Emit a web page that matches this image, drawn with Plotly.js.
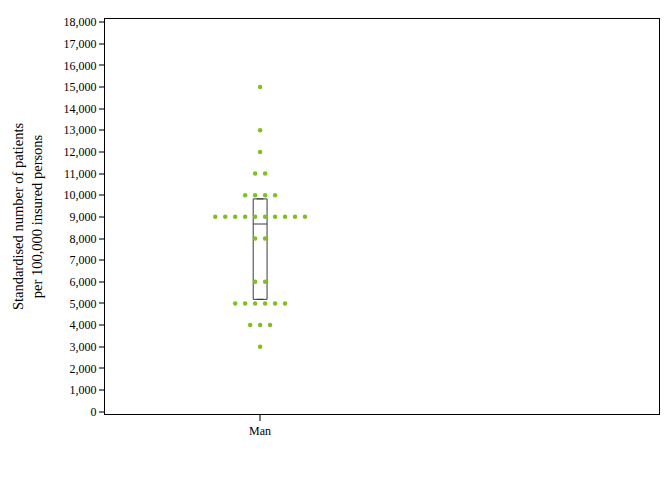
<!DOCTYPE html>
<html>
<head>
<meta charset="utf-8">
<script src="https://cdn.plot.ly/plotly-3.0.1.min.js"></script>
<style>html,body{margin:0;padding:0;background:#fff;}#chart{width:672px;height:480px;}</style>
</head>
<body>
<div id="chart"></div>
<script>
// Data
const categories = ['Man'];
// binned dot values (standardised patients per 100,000) and how many dots at each
const dotLevels = [15000, 13000, 12000, 11000, 10000, 9000, 8000, 6000, 5000, 4000, 3000];
const dotCounts = [1, 1, 1, 2, 4, 10, 2, 2, 6, 3, 1];
// box statistics
const boxQ1 = [5190];
const boxMedian = [8670];
const boxQ3 = [9830];
const yTicks = [0,1000,2000,3000,4000,5000,6000,7000,8000,9000,10000,11000,12000,13000,14000,15000,16000,17000,18000];

const dotStep = 0.036; // horizontal spacing between stacked dots (axis units)
const dx = [], dy = [];
dotLevels.forEach((v, i) => {
  const n = dotCounts[i];
  for (let k = 0; k < n; k++) {
    dx.push((k - (n - 1) / 2) * dotStep);
    dy.push(v);
  }
});

const fontFam = '"Liberation Serif", "Times New Roman", serif';

const traces = [
  {
    type: 'box',
    x: [0],
    q1: boxQ1, median: boxMedian, q3: boxQ3,
    lowerfence: boxQ1, upperfence: boxQ3,
    width: 0.05,
    fillcolor: 'rgba(0,0,0,0)',
    line: {color: '#3a3a3a', width: 1},
    boxpoints: false,
    hoverinfo: 'skip',
    showlegend: false
  },
  {
    type: 'scatter',
    mode: 'markers',
    x: dx, y: dy,
    marker: {color: '#80c01c', size: 4.5, line: {width: 0}},
    showlegend: false
  }
];

const layout = {
  width: 672, height: 480,
  margin: {l: 105, r: 13, t: 19, b: 66},
  paper_bgcolor: '#ffffff', plot_bgcolor: '#ffffff',
  font: {family: fontFam, size: 12, color: '#000'},
  showlegend: false,
  xaxis: {
    range: [-0.56, 1.44],
    tickvals: [0], ticktext: categories,
    showgrid: false, zeroline: false,
    showline: true, linecolor: '#000', linewidth: 1, mirror: true,
    ticks: 'outside', ticklen: 6, tickcolor: '#777', tickwidth: 2,
    tickfont: {family: fontFam, size: 12, color: '#000'}
  },
  yaxis: {
    range: [-106, 18140],
    tickvals: yTicks,
    tickformat: ',d',
    showgrid: false, zeroline: false,
    showline: true, linecolor: '#000', linewidth: 1, mirror: true,
    ticks: 'outside', ticklen: 5, tickcolor: '#777', tickwidth: 2,
    tickfont: {family: fontFam, size: 12, color: '#000'},
    title: {text: 'Standardised number of patients<br>per 100,000 insured persons', font: {family: fontFam, size: 14.5, color: '#000'}, standoff: 17}
  }
};

Plotly.newPlot('chart', traces, layout, {displayModeBar: false, staticPlot: true});
</script>
</body>
</html>
